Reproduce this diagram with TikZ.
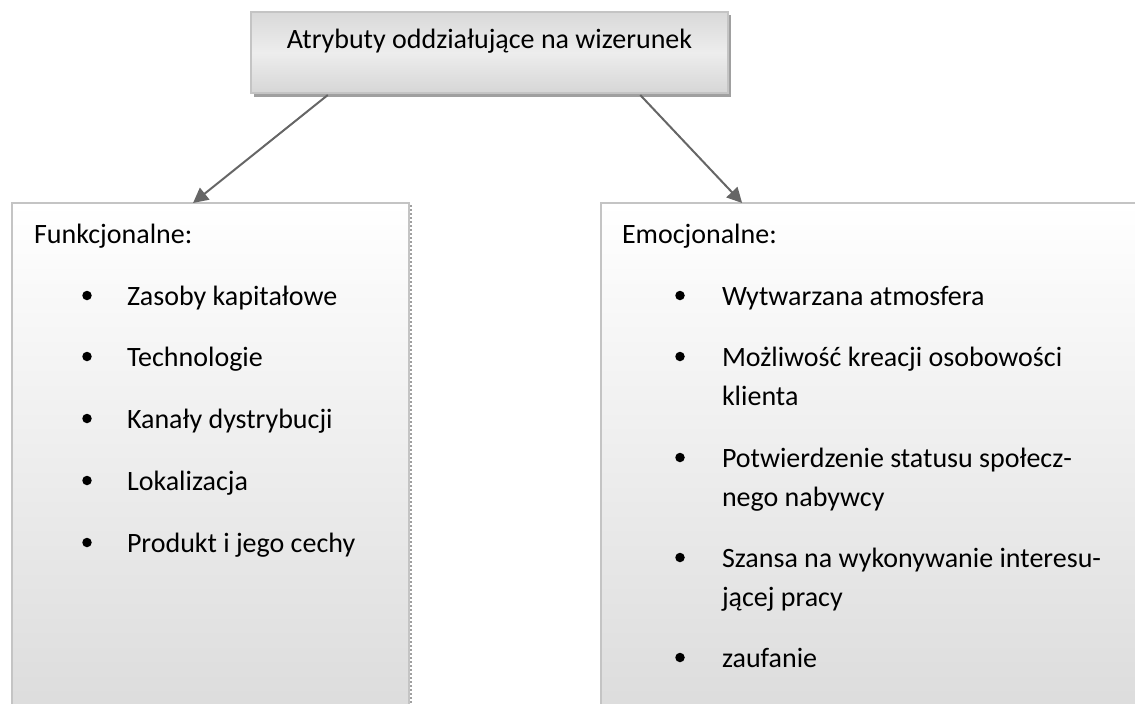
\documentclass[tikz,border=0pt]{standalone}
\usepackage{fontspec}
\setmainfont{Carlito}
\usetikzlibrary{arrows.meta,calc}
\definecolor{boxline}{HTML}{C4C4C4}
\definecolor{arrowgray}{HTML}{666666}
\definecolor{shadowgray}{HTML}{A0A0A0}
\begin{document}
\begin{tikzpicture}[x=1pt,y=-1pt,
  txt/.style={anchor=base west,inner sep=0pt,outer sep=0pt,font=\fontsize{28}{34}\selectfont},
  ttl/.style={inner sep=0pt,outer sep=0pt,font=\fontsize{28}{34}\selectfont},
  lowbox/.style={draw=boxline,line width=2pt,top color=white,bottom color=black!14,inner sep=0pt,outer sep=0pt,anchor=north west},
  topbox/.style={draw=boxline,line width=1.5pt,inner sep=0pt,outer sep=0pt,shade,shading=axis,top color=black!15,bottom color=black!16,middle color=black!7},
  arr/.style={draw=arrowgray,line width=2pt,-{Triangle[length=15pt,width=15pt]},fill=arrowgray},
  dot/.style={circle,fill=black,inner sep=0pt,minimum size=9.5pt}
]
\useasboundingbox (0,0) rectangle (1135,704);
\clip (0,0) rectangle (1135,704);
% top box with shadow
\fill[shadowgray] (254,15) rectangle (731,97);
\node[topbox,minimum width=477pt,minimum height=81pt] (top) at (489.5,52.5) {};
\node[ttl] (title) at (489.5,41) {Atrybuty oddziałujące na wizerunek};
% left box
\draw[shadowgray,line width=2pt,dotted] (411,205) -- (411,704);
\node[lowbox,minimum width=397pt,minimum height=520pt] (fun) at (12,203) {};
% right box
\node[lowbox,minimum width=560pt,minimum height=520pt] (emo) at (601,203) {};
% arrows
\draw[arr] ($(top.south west)!0.161!(top.south east)+(0,2)$) -- ($(fun.north west)!0.456!(fun.north east)$);
\draw[arr] ($(top.south west)!0.816!(top.south east)+(0,2)$) -- ($(emo.north west)!0.252!(emo.north east)$);
% left texts
\node[txt] (fh) at (34,243) {Funkcjonalne:};
\node[dot] (fb1) at (87,295.5) {};
\node[txt] (f1) at (127,305) {Zasoby kapitałowe};
\node[dot] (fb2) at (87,356.5) {};
\node[txt] (f2) at (127,366) {Technologie};
\node[dot] (fb3) at (87,418.5) {};
\node[txt] (f3) at (127,428) {Kanały dystrybucji};
\node[dot] (fb4) at (87,480.5) {};
\node[txt] (f4) at (127,490) {Lokalizacja};
\node[dot] (fb5) at (87,542.5) {};
\node[txt] (f5) at (127,552) {Produkt i jego cechy};
% right texts
\node[txt] (eh) at (622,243) {Emocjonalne:};
\node[dot] (eb1) at (680,295.5) {};
\node[txt] (e1) at (722,305) {Wytwarzana atmosfera};
\node[dot] (eb2) at (680,356.5) {};
\node[txt] (e2a) at (722,366) {Możliwość kreacji osobowości};
\node[txt] (e2b) at (722,405) {klienta};
\node[dot] (eb3) at (680,457.5) {};
\node[txt] (e3a) at (722,467) {Potwierdzenie statusu społecz-};
\node[txt] (e3b) at (722,506) {nego nabywcy};
\node[dot] (eb4) at (680,557.5) {};
\node[txt] (e4a) at (722,567) {Szansa na wykonywanie interesu-};
\node[txt] (e4b) at (722,606) {jącej pracy};
\node[dot] (eb5) at (680,657.5) {};
\node[txt] (e5) at (722,667) {zaufanie};
\end{tikzpicture}
\end{document}
